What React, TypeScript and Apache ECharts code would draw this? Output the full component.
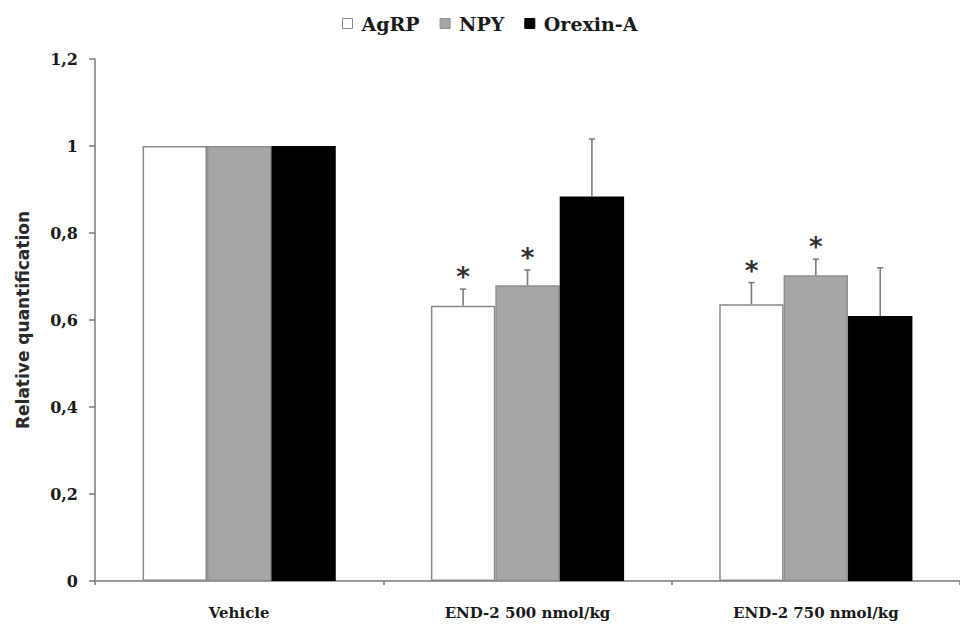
import React, { useEffect, useRef } from "react";
import * as echarts from "echarts";

// Treatment groups on the x axis
const categories = ["Vehicle", "END-2 500 nmol/kg", "END-2 750 nmol/kg"];

// Relative quantification (mean) per gene
const agrp = [1, 0.633, 0.636];
const npy = [1, 0.68, 0.703];
const orexinA = [1, 0.884, 0.609];

// Upper error (SEM) per gene
const agrpErr = [0, 0.038, 0.05];
const npyErr = [0, 0.035, 0.037];
const orexinAErr = [0, 0.132, 0.111];

// Significance markers (*)
const agrpSig = [0, 1, 1];
const npySig = [0, 1, 1];
const orexinASig = [0, 0, 0];

const yTicks = { min: 0, max: 1.2, interval: 0.2 };

const SERIF = "DejaVu Serif";
const CAT_GAP = 0.33;

const genes = [
  { name: "AgRP", values: agrp, err: agrpErr, sig: agrpSig, color: "#ffffff", border: "#8a8a8a" },
  { name: "NPY", values: npy, err: npyErr, sig: npySig, color: "#a6a6a6", border: "#8f8f8f" },
  { name: "Orexin-A", values: orexinA, err: orexinAErr, sig: orexinASig, color: "#000000", border: "#000000" },
];

function errorSeries(gi: number) {
  const g = genes[gi];
  const data = categories.map((_, i) => [i, g.values[i], g.err[i], g.sig[i]]);
  return {
    type: "custom",
    name: g.name + " error",
    data,
    z: 5,
    encode: { x: 0, y: 1 },
    renderItem: (params: any, api: any) => {
      const idx = api.value(0);
      const mean = api.value(1);
      const err = api.value(2);
      const sig = api.value(3);
      if (!err) return { type: "group", children: [] };
      const base = api.coord([idx, mean]);
      const top = api.coord([idx, mean + err]);
      const band = api.size([1, 0])[0];
      const barW = (band * (1 - CAT_GAP)) / genes.length;
      const cx = base[0] + (gi - (genes.length - 1) / 2) * barW;
      const stroke = { stroke: "#7d7d7d", lineWidth: 1.6 };
      const children: any[] = [
        { type: "line", shape: { x1: cx, y1: base[1], x2: cx, y2: top[1] }, style: stroke },
        { type: "line", shape: { x1: cx - 3, y1: top[1], x2: cx + 3, y2: top[1] }, style: stroke },
      ];
      if (sig) {
        children.push({
          type: "text",
          x: cx,
          y: top[1] - 12,
          style: {
            text: "*",
            fill: "#333333",
            font: "bold 26px 'DejaVu Sans'",
            align: "center",
            verticalAlign: "middle",
          },
        });
      }
      return { type: "group", children };
    },
    tooltip: { show: false },
  };
}

function formatTick(v: number) {
  const r = Math.round(v * 10) / 10;
  return String(r).replace(".", ",");
}

export default function App() {
  const ref = useRef<HTMLDivElement>(null);

  useEffect(() => {
    if (!ref.current) return;
    const chart = echarts.init(ref.current, undefined, { renderer: "svg" });
    const axisColor = "#7a7a7a";
    chart.setOption({
      animation: false,
      backgroundColor: "#ffffff",
      legend: {
        top: 9,
        left: 337,
        icon: "rect",
        itemWidth: 10,
        itemHeight: 10,
        itemGap: 20,
        data: genes.map((g) => ({
          name: g.name,
          itemStyle: { color: g.color, borderColor: g.border, borderWidth: 1 },
        })),
        textStyle: {
          fontFamily: SERIF,
          fontWeight: "bold",
          fontSize: 19,
          color: "#1a1a1a",
          padding: [0, 0, 0, 4],
        },
      },
      grid: { left: 95, top: 59, width: 872, height: 522, containLabel: false },
      xAxis: {
        type: "category",
        data: categories,
        axisLine: { lineStyle: { color: axisColor, width: 1.5 } },
        axisTick: { show: true, length: 4, lineStyle: { color: axisColor, width: 1.5 } },
        axisLabel: {
          margin: 24,
          fontFamily: SERIF,
          fontWeight: "bold",
          fontSize: 15,
          color: "#1a1a1a",
        },
      },
      yAxis: {
        type: "value",
        min: yTicks.min,
        max: yTicks.max,
        interval: yTicks.interval,
        name: "Relative quantification",
        nameLocation: "middle",
        nameGap: 64,
        nameTextStyle: {
          fontFamily: "DejaVu Sans",
          fontWeight: "bold",
          fontSize: 17,
          color: "#2a2a2a",
        },
        splitLine: { show: false },
        axisLine: { show: true, lineStyle: { color: axisColor, width: 1.5 } },
        axisTick: { show: true, length: 6, lineStyle: { color: axisColor, width: 1.5 } },
        axisLabel: {
          margin: 17,
          formatter: formatTick,
          fontFamily: SERIF,
          fontWeight: "bold",
          fontSize: 16,
          color: "#1a1a1a",
        },
      },
      series: [
        ...genes.map((g) => ({
          type: "bar",
          name: g.name,
          data: g.values,
          barGap: "0%",
          barCategoryGap: CAT_GAP * 100 + "%",
          itemStyle: { color: g.color, borderColor: g.border, borderWidth: 1.5 },
        })),
        ...genes.map((_, gi) => errorSeries(gi)),
      ],
    });
    return () => chart.dispose();
  }, []);

  return (
    <div
      ref={ref}
      style={{ position: "fixed", left: 0, top: 0, width: 960, height: 627, background: "#fff" }}
    />
  );
}
